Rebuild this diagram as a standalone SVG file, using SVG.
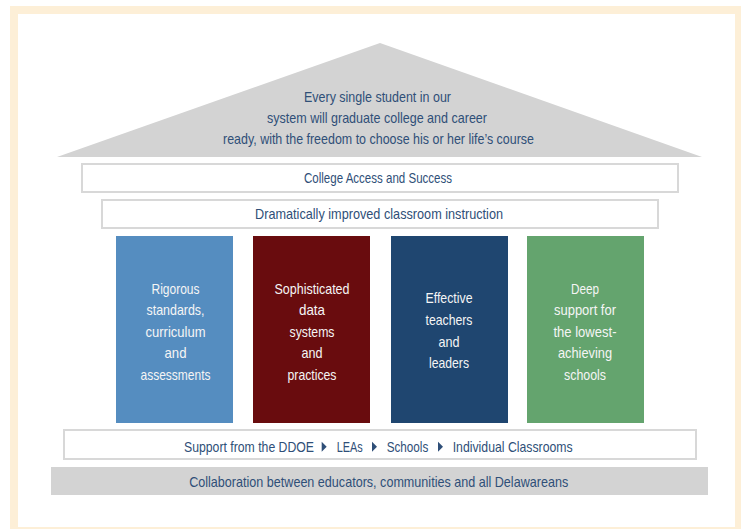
<svg xmlns="http://www.w3.org/2000/svg" width="741" height="529" viewBox="0 0 741 529">
<style>
.t{font-family:"Liberation Sans",Arial,sans-serif;font-size:14.5px;fill:#2F4F78;text-anchor:middle}
.w{font-family:"Liberation Sans",Arial,sans-serif;font-size:14.5px;fill:#F5F5F5;text-anchor:middle}
.s{font-family:"Liberation Sans",Arial,sans-serif;font-size:14.5px;fill:#2F4F78;text-anchor:start}
.bar{fill:#FFFFFF;stroke:#D8D8D8;stroke-width:2}
.gray{fill:#D3D3D3}
.tri{fill:#2F4F78}
</style>
<rect x="0" y="0" width="741" height="529" fill="#FFFFFF"/>
<rect x="14" y="10" width="725" height="521" fill="#FFFFFF" stroke="#FDEFD7" stroke-width="8"/>

<g id="roof">
<polygon class="gray" points="57,157 380,43 702,157"/>
<text class="t" x="377.5" y="101.5" textLength="147" lengthAdjust="spacingAndGlyphs">Every single student in our</text>
<text class="t" x="377" y="122.8" textLength="220" lengthAdjust="spacingAndGlyphs">system will graduate college and career</text>
<text class="t" x="378.5" y="144" textLength="311" lengthAdjust="spacingAndGlyphs">ready, with the freedom to choose his or her life’s course</text>
</g>

<g id="college-access">
<rect class="bar" x="82" y="164" width="596" height="28"/>
<text class="t" x="378" y="183" textLength="148" lengthAdjust="spacingAndGlyphs">College Access and Success</text>
</g>

<g id="instruction">
<rect class="bar" x="102" y="200" width="556" height="28"/>
<text class="t" x="379" y="218.5" textLength="248" lengthAdjust="spacingAndGlyphs">Dramatically improved classroom instruction</text>
</g>

<g id="pillar-standards">
<rect x="116" y="236" width="117" height="187" fill="#558DC0"/>
<text class="w" x="175.5" y="293.5" textLength="48" lengthAdjust="spacingAndGlyphs">Rigorous</text>
<text class="w" x="175.5" y="315" textLength="58" lengthAdjust="spacingAndGlyphs">standards,</text>
<text class="w" x="175.5" y="336.7" textLength="60" lengthAdjust="spacingAndGlyphs">curriculum</text>
<text class="w" x="175.5" y="358.3" textLength="22" lengthAdjust="spacingAndGlyphs">and</text>
<text class="w" x="175.5" y="380" textLength="70" lengthAdjust="spacingAndGlyphs">assessments</text>
</g>

<g id="pillar-data">
<rect x="253" y="236" width="117" height="187" fill="#690C0E"/>
<text class="w" x="312" y="293.5" textLength="75" lengthAdjust="spacingAndGlyphs">Sophisticated</text>
<text class="w" x="312" y="315" textLength="26" lengthAdjust="spacingAndGlyphs">data</text>
<text class="w" x="312" y="336.7" textLength="45" lengthAdjust="spacingAndGlyphs">systems</text>
<text class="w" x="312" y="358.3" textLength="21" lengthAdjust="spacingAndGlyphs">and</text>
<text class="w" x="312" y="380" textLength="49" lengthAdjust="spacingAndGlyphs">practices</text>
</g>

<g id="pillar-teachers">
<rect x="391" y="236" width="117" height="187" fill="#1F4670"/>
<text class="w" x="449" y="303.3" textLength="47" lengthAdjust="spacingAndGlyphs">Effective</text>
<text class="w" x="449" y="325" textLength="47" lengthAdjust="spacingAndGlyphs">teachers</text>
<text class="w" x="449" y="346.7" textLength="21" lengthAdjust="spacingAndGlyphs">and</text>
<text class="w" x="449" y="368.3" textLength="40" lengthAdjust="spacingAndGlyphs">leaders</text>
</g>

<g id="pillar-support">
<rect x="527" y="236" width="117" height="187" fill="#64A46E"/>
<text class="w" x="585" y="293.5" textLength="28" lengthAdjust="spacingAndGlyphs">Deep</text>
<text class="w" x="585" y="315" textLength="62" lengthAdjust="spacingAndGlyphs">support for</text>
<text class="w" x="585" y="336.7" textLength="63" lengthAdjust="spacingAndGlyphs">the lowest-</text>
<text class="w" x="585" y="358.3" textLength="54" lengthAdjust="spacingAndGlyphs">achieving</text>
<text class="w" x="585" y="380" textLength="42" lengthAdjust="spacingAndGlyphs">schools</text>
</g>

<g id="support-chain">
<rect class="bar" x="64" y="430" width="632" height="29"/>
<text class="s" x="184" y="451.7" textLength="130" lengthAdjust="spacingAndGlyphs">Support from the DDOE</text>
<text class="s" x="336.7" y="451.7" textLength="26" lengthAdjust="spacingAndGlyphs">LEAs</text>
<text class="s" x="386.7" y="451.7" textLength="41.6" lengthAdjust="spacingAndGlyphs">Schools</text>
<text class="s" x="452.7" y="451.7" textLength="120" lengthAdjust="spacingAndGlyphs">Individual Classrooms</text>
</g>

<g id="connectors">
<polygon class="tri" points="321.7,441.7 326.7,446.7 321.7,451.7"/>
<polygon class="tri" points="372,441.7 377,446.7 372,451.7"/>
<polygon class="tri" points="438,441.7 443,446.7 438,451.7"/>
</g>

<g id="collaboration">
<rect class="gray" x="51" y="467" width="657" height="28"/>
<text class="t" x="378.7" y="486.7" textLength="379" lengthAdjust="spacingAndGlyphs">Collaboration between educators, communities and all Delawareans</text>
</g>
</svg>
